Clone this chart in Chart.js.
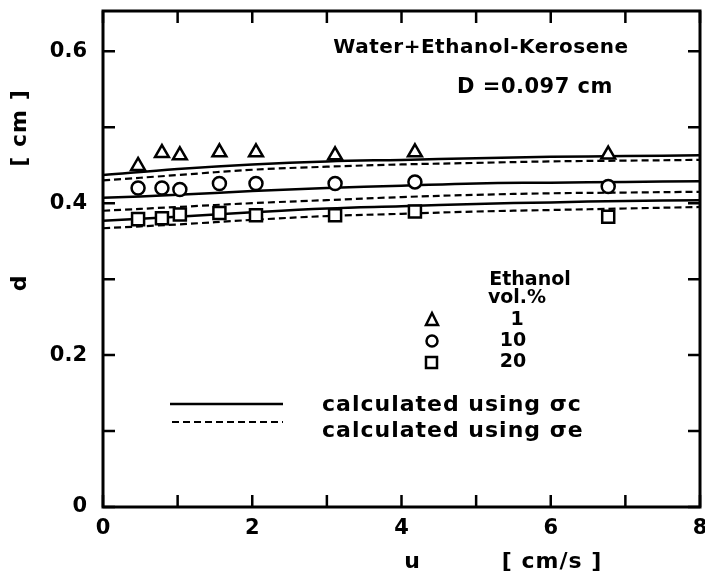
<!DOCTYPE html>
<html>
<head>
<meta charset="utf-8">
<script src="https://cdn.jsdelivr.net/npm/chart.js@4/dist/chart.umd.min.js"></script>
<style>
  html, body { margin: 0; padding: 0; background: #fff; }
  #wrap { width: 705px; height: 576px; }
</style>
</head>
<body>
<div id="wrap"><canvas id="grafico" width="705" height="576"></canvas></div>
<script>
// datos medidos (u en cm/s, d en cm)
const uMedido = [0.47, 0.79, 1.03, 1.56, 2.05, 3.11, 4.18, 6.77];
const dEtanol1 = [0.449, 0.466, 0.463, 0.467, 0.467, 0.463, 0.467, 0.464];
const dEtanol10 = [0.420, 0.420, 0.418, 0.426, 0.426, 0.426, 0.428, 0.422];
const dEtanol20 = [0.379, 0.380, 0.385, 0.387, 0.384, 0.384, 0.389, 0.382];

// curvas calculadas
const uCalc = [0, 1, 2, 3, 4, 5, 6, 7, 8];
const calcC1 = [0.437, 0.445, 0.451, 0.455, 0.457, 0.459, 0.461, 0.462, 0.463];
const calcE1 = [0.430, 0.437, 0.444, 0.448, 0.451, 0.453, 0.455, 0.456, 0.457];
const calcC10 = [0.407, 0.411, 0.416, 0.420, 0.423, 0.426, 0.427, 0.428, 0.429];
const calcE10 = [0.390, 0.395, 0.400, 0.404, 0.408, 0.411, 0.413, 0.414, 0.415];
const calcC20 = [0.377, 0.382, 0.388, 0.393, 0.396, 0.399, 0.401, 0.403, 0.404];
const calcE20 = [0.367, 0.372, 0.378, 0.383, 0.386, 0.389, 0.391, 0.393, 0.395];

const ticksX = [0, 1, 2, 3, 4, 5, 6, 7, 8];
const etiquetasX = [0, 2, 4, 6, 8];
const ticksY = [0, 0.1, 0.2, 0.3, 0.4, 0.5, 0.6];
const etiquetasY = [0, 0.2, 0.4, 0.6];

const fuente = '"DejaVu Sans", sans-serif';

function pares(xs, ys) {
    return xs.map((x, i) => ({ x: x, y: ys[i] }));
}

function serieMedida(ys, estilo, radio) {
    return {
        type: 'scatter',
        data: pares(uMedido, ys),
        pointStyle: estilo,
        pointRadius: radio,
        pointBorderWidth: 2.5,
        pointBorderColor: '#000',
        pointBackgroundColor: '#fff',
        showLine: false,
        order: 0
    };
}

function serieCalc(ys, punteada) {
    return {
        type: 'line',
        data: pares(uCalc, ys),
        borderColor: '#000',
        borderWidth: punteada ? 2.2 : 2.5,
        borderDash: punteada ? [7, 4] : [],
        pointRadius: 0,
        tension: 0.4,
        fill: false,
        order: 1
    };
}

const marco = {
    id: 'marco',
    afterDraw(chart) {
        const ctx = chart.ctx;
        const a = chart.chartArea;
        const sx = chart.scales.x, sy = chart.scales.y;
        ctx.save();
        ctx.strokeStyle = '#000';
        ctx.lineWidth = 3;
        ctx.strokeRect(a.left, a.top, a.right - a.left, a.bottom - a.top);
        ctx.lineWidth = 2.5;
        ctx.beginPath();
        ticksX.forEach(v => {
            const px = sx.getPixelForValue(v);
            ctx.moveTo(px, a.bottom); ctx.lineTo(px, a.bottom - 12);
            ctx.moveTo(px, a.top); ctx.lineTo(px, a.top + 12);
        });
        ticksY.forEach(v => {
            const py = sy.getPixelForValue(v);
            ctx.moveTo(a.left, py); ctx.lineTo(a.left + 12, py);
            ctx.moveTo(a.right, py); ctx.lineTo(a.right - 12, py);
        });
        ctx.stroke();

        ctx.fillStyle = '#000';
        ctx.textBaseline = 'middle';
        ctx.textAlign = 'center';

        // etiquetas del eje x
        ctx.font = 'bold 21px ' + fuente;
        etiquetasX.forEach(v => {
            ctx.fillText(String(v), sx.getPixelForValue(v), a.bottom + 22);
        });

        // textos
        ctx.letterSpacing = '0.5px';
        ctx.font = 'bold 20px ' + fuente;
        ctx.fillText('Water+Ethanol-Kerosene', 481, 48);
        ctx.font = 'bold 21px ' + fuente;
        ctx.fillText('D =0.097 cm', 535, 88);
        ctx.letterSpacing = '0px';
        ctx.font = 'bold 19px ' + fuente;
        ctx.fillText('Ethanol', 530, 280);
        ctx.fillText('vol.%', 517, 298);
        ctx.fillText('1', 517, 320);
        ctx.fillText('10', 513, 341);
        ctx.fillText('20', 513, 362);
        ctx.textAlign = 'left';
        ctx.letterSpacing = '1px';
        ctx.font = 'bold 22px ' + fuente;
        ctx.fillText('calculated using σc', 322, 405);
        ctx.fillText('calculated using σe', 322, 431);
        ctx.letterSpacing = '0px';

        // simbolos de la leyenda
        ctx.lineWidth = 2.5;
        ctx.beginPath();
        ctx.moveTo(432, 313); ctx.lineTo(438, 325); ctx.lineTo(426, 325); ctx.closePath();
        ctx.stroke();
        ctx.beginPath();
        ctx.arc(432, 341, 5.5, 0, Math.PI * 2);
        ctx.stroke();
        ctx.strokeRect(426, 357, 11, 11);

        ctx.beginPath();
        ctx.moveTo(170, 404); ctx.lineTo(283, 404);
        ctx.stroke();
        ctx.lineWidth = 2.2;
        ctx.setLineDash([7, 4]);
        ctx.beginPath();
        ctx.moveTo(172, 422); ctx.lineTo(283, 422);
        ctx.stroke();
        ctx.setLineDash([]);

        // titulos de ejes
        ctx.textAlign = 'center';
        ctx.font = 'bold 22px ' + fuente;
        ctx.fillText('u', 412, 562);
        ctx.letterSpacing = '1px';
        ctx.fillText('[ cm/s ]', 552, 562);
        ctx.save();
        ctx.translate(20, 283);
        ctx.rotate(-Math.PI / 2);
        ctx.fillText('d', 0, 0);
        ctx.restore();
        ctx.save();
        ctx.translate(20, 128);
        ctx.rotate(-Math.PI / 2);
        ctx.fillText('[ cm ]', 0, 0);
        ctx.restore();
        ctx.restore();
    }
};

new Chart(document.getElementById('grafico').getContext('2d'), {
    data: {
        datasets: [
            serieMedida(dEtanol1, 'triangle', 8),
            serieMedida(dEtanol10, 'circle', 6.5),
            serieMedida(dEtanol20, 'rect', 8.5),
            serieCalc(calcC1, false),
            serieCalc(calcE1, true),
            serieCalc(calcC10, false),
            serieCalc(calcE10, true),
            serieCalc(calcC20, false),
            serieCalc(calcE20, true)
        ]
    },
    options: {
        responsive: false,
        animation: false,
        layout: { autoPadding: false, padding: { left: 0, top: 11, right: 5, bottom: 0 } },
        plugins: { legend: { display: false }, tooltip: { enabled: false } },
        scales: {
            x: {
                type: 'linear', min: 0, max: 8,
                afterFit: s => { s.height = 69; },
                grid: { display: false, drawTicks: false },
                border: { display: false },
                ticks: { display: false }
            },
            y: {
                type: 'linear', min: 0, max: 0.653,
                afterFit: s => { s.width = 103; s.paddingTop = 0; s.paddingBottom = 0; },
                afterBuildTicks: s => { s.ticks = etiquetasY.map(v => ({ value: v })); },
                grid: { display: false, drawTicks: false },
                border: { display: false },
                ticks: { color: '#000', padding: 16,
                         font: { family: fuente, size: 21, weight: 'bold' },
                         callback: v => v === 0 ? '0' : v.toFixed(1) }
            }
        }
    },
    plugins: [marco]
});
</script>
</body>
</html>
